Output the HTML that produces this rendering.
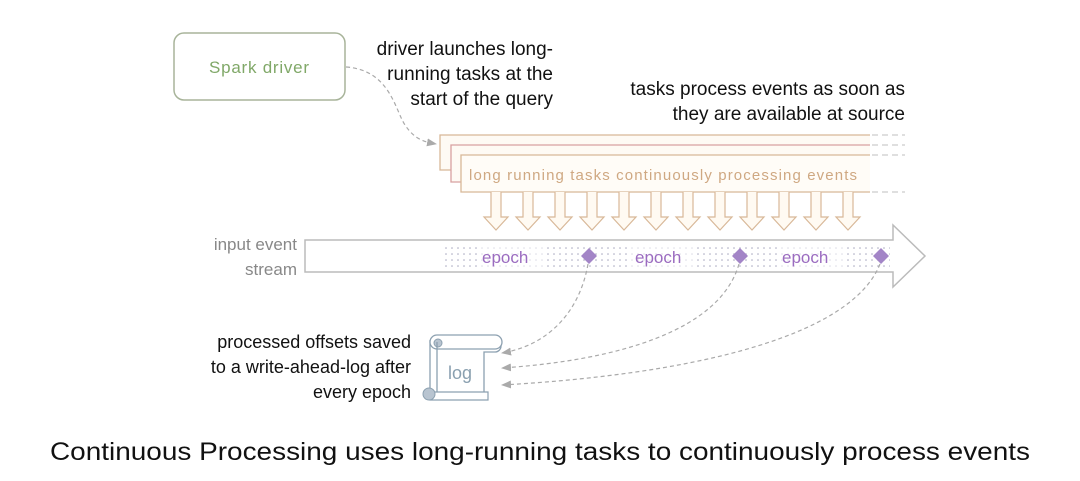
<!DOCTYPE html>
<html><head><meta charset="utf-8"><style>
html,body{margin:0;padding:0;background:#fff}
svg{display:block}
text{font-family:"Liberation Sans",sans-serif}
</style></head><body>
<svg width="1080" height="481" viewBox="0 0 1080 481" xmlns="http://www.w3.org/2000/svg">
<defs>
<pattern id="dots" width="6" height="6" patternUnits="userSpaceOnUse"><circle cx="2" cy="2" r="0.8" fill="#a8a8c0"/></pattern>
<marker id="ah" markerWidth="10" markerHeight="8" refX="9" refY="4" orient="auto" markerUnits="userSpaceOnUse"><path d="M0,0 L10,4 L0,8 Z" fill="#aaa"/></marker>
</defs>
<rect x="174" y="33" width="171" height="67" rx="10" fill="#fff" stroke="#a8b49a" stroke-width="1.5"/>
<text x="259" y="73" text-anchor="middle" font-size="17" fill="#80a868" font-family="DejaVu Sans,sans-serif" textLength="100">Spark driver</text>
<g font-size="19" fill="#111" text-anchor="end">
<text x="553" y="55">driver launches long-</text>
<text x="553" y="80">running tasks at the</text>
<text x="553" y="105">start of the query</text>
<text x="905" y="95">tasks process events as soon as</text>
<text x="905" y="120">they are available at source</text>
</g>
<path d="M346,67 C390,70 395,110 405,125 C415,140 425,142 436,144" fill="none" stroke="#aaa" stroke-dasharray="4,3" stroke-width="1.2" marker-end="url(#ah)"/>
<path d="M440,135 H870 V170 H440 Z" fill="#fefaf4"/>
<path d="M870,135 H440 V170 H451" fill="none" stroke="#d8b898" stroke-width="1.3"/>
<path d="M451,145 H870 V182 H451 Z" fill="#fefaf4"/>
<path d="M870,145 H451 V182 H461" fill="none" stroke="#d8a0a0" stroke-width="1.3"/>
<path d="M461,155 H870 V192 H461 Z" fill="#fffcf7"/>
<path d="M870,155 H461 V192 H870" fill="none" stroke="#d8b898" stroke-width="1.3"/>
<g stroke="#ccc" stroke-dasharray="6,4" stroke-width="1.3">
<line x1="872" y1="135" x2="905" y2="135"/><line x1="872" y1="145" x2="905" y2="145"/><line x1="872" y1="155" x2="905" y2="155"/><line x1="872" y1="192" x2="905" y2="192"/>
</g>
<text x="469" y="180" font-size="15" fill="#cfa882" font-family="DejaVu Sans,sans-serif" textLength="388">long running tasks continuously processing events</text>
<g fill="#fffaf2" stroke="#d8b898" stroke-width="1.2">
<path id="da" d="M491,192 V217 H484 L496,230 L508,217 H501 V192"/>
<use href="#da" x="32"/><use href="#da" x="64"/><use href="#da" x="96"/><use href="#da" x="128"/><use href="#da" x="160"/><use href="#da" x="192"/><use href="#da" x="224"/><use href="#da" x="256"/><use href="#da" x="288"/><use href="#da" x="320"/><use href="#da" x="352"/>
</g>
<path d="M305,240 H893 V225 L925,256 L893,287 V272 H305 Z" fill="#fff" stroke="#bbb" stroke-width="1.5"/>
<rect x="445" y="244" width="445" height="24" fill="url(#dots)"/>
<g font-size="17" fill="#9b6cc0">
<rect x="478" y="245" width="66" height="22" fill="#fff" opacity="0.6"/>
<text x="482" y="263">epoch</text>
<rect x="631" y="245" width="66" height="22" fill="#fff" opacity="0.6"/>
<text x="635" y="263">epoch</text>
<rect x="778" y="245" width="66" height="22" fill="#fff" opacity="0.6"/>
<text x="782" y="263">epoch</text>
</g>
<g fill="#a385c7">
<path d="M589,248 L597,256 L589,264 L581,256 Z"/>
<path d="M740,248 L748,256 L740,264 L732,256 Z"/>
<path d="M881,248 L889,256 L881,264 L873,256 Z"/>
</g>
<g font-size="17" fill="#888" text-anchor="end">
<text x="297" y="250">input event</text>
<text x="297" y="275">stream</text>
</g>
<g fill="none" stroke="#aaa" stroke-width="1.2" stroke-dasharray="4,3" marker-end="url(#ah)">
<path d="M588,264 C580,310 550,345 502,353"/>
<path d="M739,264 C720,330 620,360 502,368"/>
<path d="M880,264 C850,340 680,375 502,385"/>
</g>
<path d="M437,340 H495 A6,6 0 0 1 495,352 H484 V397 H430 V340" fill="#fff" stroke="#8ca0b0" stroke-width="1.3"/>
<path d="M437,335 H495 A7,7 0 0 1 495,349 H437 A7,7 0 0 1 437,335 Z" fill="#fff" stroke="#8ca0b0" stroke-width="1.3"/>
<circle cx="438" cy="343" r="4" fill="#b8c4d0" stroke="#8ca0b0"/>
<path d="M437,342 V392" stroke="#8ca0b0" stroke-width="1.3"/>
<path d="M430,392 H488 V400 H430 Z" fill="#fff" stroke="#8ca0b0" stroke-width="1.2"/>
<circle cx="429" cy="394" r="6" fill="#b8c4d0" stroke="#8ca0b0"/>
<text x="460" y="379" text-anchor="middle" font-size="18" fill="#8aa0b0" font-family="DejaVu Sans,sans-serif">log</text>
<g font-size="18" fill="#111" text-anchor="end">
<text x="411" y="348">processed offsets saved</text>
<text x="411" y="373">to a write-ahead-log after</text>
<text x="411" y="398">every epoch</text>
</g>
<text x="540" y="460" text-anchor="middle" font-size="25" fill="#111" textLength="980" lengthAdjust="spacingAndGlyphs">Continuous Processing uses long-running tasks to continuously process events</text>
</svg>
</body></html>
